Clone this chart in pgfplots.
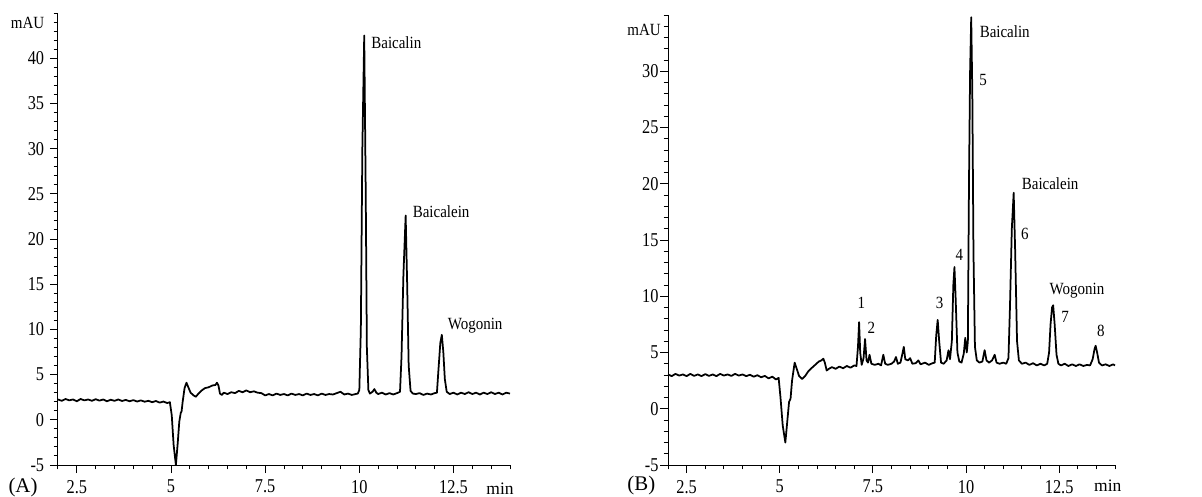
\documentclass[border=0pt]{standalone}
\usepackage{fontspec}
\setmainfont{Liberation Serif}
\usepackage{pgfplots}
\pgfplotsset{compat=1.18}

% 1 px of the reference = 0.6pt
\pgfplotsset{
  chrom/.style={
    scale only axis, axis lines=left, axis line style={-, line width=0.6pt},
    xmin=2, xmax=14,
    xtick={2.5,5,7.5,10,12.5},
    minor xtick={2,2.5,...,14},
    tick align=outside,
    major tick length=4.8pt, minor tick length=2.6pt,
    every tick/.style={black, line width=0.6pt},
    /pgf/number format/assume math mode=true,
    tick label style={font=\fontsize{9.8}{11}\selectfont, yscale=1.2},
    clip=false,
  },
  trace/.style={black, line width=1.05pt, line join=round},
}
\tikzset{
  lbl/.style={font=\fontsize{9}{11}\selectfont, inner sep=0pt, yscale=1.14},
  big/.style={font=\fontsize{12.5}{14}\selectfont, inner sep=0pt},
  unit/.style={font=\fontsize{10.5}{12}\selectfont, inner sep=0pt},
}

\begin{document}
\begin{tikzpicture}
\useasboundingbox (0,0) rectangle (721.2pt,297.6pt);

% ---------------- (A) ----------------
\begin{axis}[chrom, at={(34.8pt,18.6pt)}, anchor=south west,
  width=271.2pt, height=271.2pt,
  ymin=-5, ymax=45,
  ytick={-5,0,...,40}, minor ytick={-5,-4,...,45}]
\addplot[trace] coordinates {
(2.00,2.25)(2.10,2.10)(2.20,2.30)(2.30,2.15)(2.40,2.25)(2.50,2.05)(2.60,2.30)(2.70,2.15)(2.80,2.25)(2.90,2.10)
(3.00,2.28)(3.10,2.12)(3.20,2.25)(3.30,2.05)(3.40,2.22)(3.50,2.10)(3.60,2.25)(3.70,2.08)(3.80,2.20)(3.90,2.05)
(4.00,2.18)(4.10,2.02)(4.20,2.15)(4.30,2.00)(4.40,2.10)(4.50,1.95)(4.60,2.08)(4.70,1.90)(4.80,2.02)(4.90,1.85)(4.97,1.95)
(5.02,0.5)(5.07,-2.8)(5.13,-5.0)(5.18,-2.5)(5.22,-0.2)(5.26,0.8)(5.28,0.9)(5.31,2.0)(5.36,3.5)(5.41,4.1)
(5.46,3.6)(5.52,3.0)(5.60,2.7)(5.66,2.55)(5.72,2.85)(5.80,3.2)(5.90,3.5)(6.00,3.6)(6.10,3.8)(6.18,3.85)(6.22,4.1)
(6.26,3.8)(6.30,2.9)(6.35,2.75)(6.40,3.0)(6.50,2.85)(6.60,3.05)(6.70,2.95)(6.80,3.2)(6.90,3.05)(7.00,3.25)
(7.10,3.05)(7.20,3.15)(7.30,3.0)(7.40,2.95)(7.50,2.70)(7.60,2.85)(7.70,2.70)(7.80,2.90)(7.90,2.75)(8.00,2.85)
(8.10,2.70)(8.20,2.90)(8.30,2.75)(8.40,2.85)(8.50,2.70)(8.60,2.90)(8.70,2.75)(8.80,2.85)(8.90,2.70)(9.00,2.90)
(9.10,2.75)(9.20,2.85)(9.30,2.80)(9.40,2.95)(9.50,3.10)(9.55,2.95)(9.60,2.80)(9.70,2.90)(9.80,2.75)(9.90,2.85)(9.96,2.9)
(10.00,3.3)(10.04,10)(10.08,30)(10.13,42.5)(10.17,25)(10.20,8)(10.24,3.3)(10.28,2.9)(10.35,3.1)(10.40,3.4)
(10.45,3.0)(10.50,2.85)(10.60,3.0)(10.70,2.8)(10.80,2.95)(10.90,2.80)(11.00,2.95)(11.08,3.1)
(11.12,7)(11.17,16)(11.23,22.6)(11.27,15)(11.31,6)(11.36,3.2)(11.42,2.9)(11.50,2.85)(11.60,2.95)(11.70,2.75)
(11.80,2.90)(11.90,2.80)(12.00,2.95)(12.06,3.0)
(12.10,5.5)(12.15,8.5)(12.19,9.4)(12.23,7.5)(12.27,4.5)(12.32,3.1)(12.40,2.85)(12.50,3.0)(12.60,2.80)(12.70,3.0)
(12.80,2.85)(12.90,3.05)(13.00,2.85)(13.10,3.0)(13.20,2.80)(13.30,3.0)(13.40,2.85)(13.50,3.05)(13.60,2.85)
(13.70,3.0)(13.80,2.80)(13.90,3.0)(14.00,2.9)
};
\node[lbl, anchor=west] at (axis cs:10.31,41.7) {Baicalin};
\node[lbl, anchor=west] at (axis cs:11.41,23.0) {Baicalein};
\node[lbl, anchor=west] at (axis cs:12.34,10.4) {Wogonin};
\node[lbl] at (rel axis cs:0,1) [xshift=-18.3pt, yshift=-5.2pt] {mAU};
\node[big] at (rel axis cs:0,0) [xshift=-21pt, yshift=-13.2pt] {(A)};
\node[unit] at (rel axis cs:0.978,0) [yshift=-14pt] {min};
\end{axis}

% ---------------- (B) ----------------
\begin{axis}[chrom, at={(400.8pt,18.6pt)}, anchor=south west,
  width=268.2pt, height=270pt,
  ymin=-5, ymax=35,
  ytick={-5,0,...,30}, minor ytick={-5,-4,...,35},
  yticklabel style={xshift=2.6pt}]
\addplot[trace] coordinates {
(2.00,3.05)(2.10,2.90)(2.20,3.10)(2.30,2.95)(2.40,3.05)(2.50,2.90)(2.60,3.10)(2.70,2.92)(2.80,3.05)(2.90,2.90)
(3.00,3.08)(3.10,2.92)(3.20,3.05)(3.30,2.90)(3.40,3.10)(3.50,2.95)(3.60,3.05)(3.70,2.92)(3.80,3.10)(3.90,2.95)
(4.00,3.05)(4.10,2.90)(4.20,3.02)(4.30,2.85)(4.40,2.98)(4.50,2.80)(4.60,2.92)(4.70,2.70)(4.80,2.85)(4.90,2.60)(4.97,2.75)
(5.02,1.0)(5.08,-1.5)(5.15,-3.0)(5.20,-1.2)(5.25,0.6)(5.29,0.9)(5.33,2.5)(5.40,4.1)(5.45,3.6)(5.52,2.9)
(5.60,2.65)(5.68,2.9)(5.76,3.3)(5.85,3.6)(5.95,3.9)(6.05,4.2)(6.12,4.3)(6.17,4.45)(6.21,4.1)(6.26,3.4)
(6.32,3.55)(6.40,3.7)(6.50,3.55)(6.60,3.75)(6.70,3.6)(6.80,3.8)(6.90,3.65)(7.00,3.85)(7.06,3.8)
(7.10,5.5)(7.13,7.7)(7.16,5.0)(7.20,3.9)(7.25,4.5)(7.29,6.2)(7.33,4.3)(7.37,4.1)(7.41,4.8)(7.46,4.0)
(7.55,3.9)(7.65,4.0)(7.72,3.85)(7.78,4.8)(7.83,4.0)(7.90,3.9)(8.00,4.0)(8.07,4.2)(8.12,4.6)(8.17,4.0)
(8.24,4.1)(8.30,5.0)(8.33,5.5)(8.37,4.4)(8.44,4.3)(8.50,4.5)(8.56,4.0)(8.65,4.05)(8.72,4.3)(8.78,3.95)
(8.90,4.1)(9.00,3.9)(9.10,4.05)(9.16,4.1)
(9.20,6.5)(9.24,7.9)(9.28,6.0)(9.33,4.1)(9.40,4.0)(9.48,4.3)(9.53,5.2)(9.57,4.4)(9.62,6.0)(9.66,11.0)
(9.69,12.6)(9.72,10.0)(9.77,5.0)(9.82,4.2)(9.88,4.1)(9.94,4.9)(9.98,6.3)(10.02,5.0)(10.05,6.0)
(10.08,20)(10.11,30)(10.14,34.8)(10.17,28)(10.20,14)(10.24,5.5)(10.29,4.3)(10.36,4.1)(10.44,4.2)(10.50,5.2)
(10.55,4.3)(10.62,4.1)(10.70,4.3)(10.77,4.8)(10.82,4.1)(10.90,4.0)(11.00,4.1)(11.08,4.0)(11.14,4.5)
(11.18,9)(11.23,16)(11.28,19.2)(11.32,14)(11.37,6)(11.42,4.3)(11.50,4.0)(11.60,4.1)(11.70,3.9)(11.80,4.05)
(11.90,3.85)(12.00,4.0)(12.10,3.85)(12.18,4.0)(12.23,5.0)
(12.27,7.5)(12.31,9.0)(12.34,9.2)(12.38,7.5)(12.43,4.8)(12.48,4.0)(12.55,3.85)(12.65,4.0)(12.75,3.8)(12.85,3.95)
(12.95,3.8)(13.05,3.95)(13.15,3.8)(13.25,3.9)(13.33,3.85)(13.40,4.4)(13.45,5.3)(13.48,5.6)(13.52,5.0)(13.57,4.1)
(13.65,3.85)(13.75,3.95)(13.85,3.8)(13.95,3.95)(14.00,3.85)
};
\node[lbl, anchor=west] at (axis cs:10.36,33.5) {Baicalin};
\node[lbl] at (axis cs:10.46,29.2) {5};
\node[lbl, anchor=west] at (axis cs:11.49,20.0) {Baicalein};
\node[lbl] at (axis cs:11.58,15.5) {6};
\node[lbl] at (axis cs:7.19,9.4) {1};
\node[lbl] at (axis cs:7.46,7.2) {2};
\node[lbl] at (axis cs:9.29,9.4) {3};
\node[lbl] at (axis cs:9.82,13.7) {4};
\node[lbl] at (axis cs:12.98,10.5) {Wogonin};
\node[lbl] at (axis cs:12.66,8.2) {7};
\node[lbl] at (axis cs:13.62,6.9) {8};
\node[lbl] at (rel axis cs:0,1) [xshift=-14.4pt, yshift=-7.6pt] {mAU};
\node[big] at (rel axis cs:0,0) [xshift=-16pt, yshift=-12pt] {(B)};
\node[unit] at (rel axis cs:0.984,0) [yshift=-12.5pt] {min};
\end{axis}
\end{tikzpicture}
\end{document}
